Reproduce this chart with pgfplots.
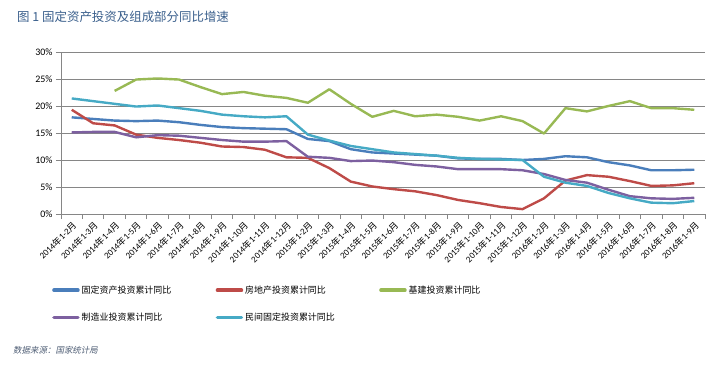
\documentclass[border=0pt]{standalone}
\usepackage{fontspec}
\setmainfont{Carlito}
\newfontfamily\cjk{Noto Sans CJK SC}
\newfontfamily\cjkit{Noto Sans CJK SC}[FakeSlant=0.2]
\usepackage{pgfplots}
\usepackage{pgfplotstable}
\pgfplotsset{compat=1.18}
\definecolor{cBlue}{HTML}{4A7EBB}
\definecolor{cRed}{HTML}{BE4B48}
\definecolor{cGreen}{HTML}{98B954}
\definecolor{cPurple}{HTML}{7D60A0}
\definecolor{cCyan}{HTML}{46AAC5}
\definecolor{gridc}{HTML}{868686}
\definecolor{titlec}{HTML}{3A5F8C}
\definecolor{srcc}{HTML}{4F5E75}
\newcommand{\lab}[2]{#1{\cjk 年}#2{\cjk 月}}
\pgfplotstableread{
x fixed re infra mfg priv
0 17.9 19.3 nan 15.1 21.4
1 17.6 16.8 nan 15.2 20.9
2 17.3 16.4 22.8 15.2 20.4
3 17.2 14.7 24.9 14.2 19.9
4 17.3 14.1 25.1 14.6 20.1
5 17.0 13.7 24.9 14.5 19.6
6 16.5 13.2 23.5 14.1 19.1
7 16.1 12.5 22.2 13.7 18.4
8 15.9 12.4 22.6 13.4 18.1
9 15.8 11.9 21.9 13.4 17.9
10 15.7 10.5 21.5 13.5 18.1
11 13.9 10.4 20.6 10.6 14.7
12 13.5 8.5 23.1 10.4 13.6
13 12.0 6.0 20.4 9.8 12.6
14 11.4 5.1 18.0 9.9 12.0
15 11.2 4.6 19.1 9.6 11.4
16 11.0 4.2 18.1 9.1 11.1
17 10.8 3.5 18.4 8.8 10.8
18 10.3 2.6 18.0 8.3 10.4
19 10.2 2.0 17.3 8.3 10.2
20 10.2 1.3 18.1 8.3 10.1
21 10.0 0.9 17.2 8.1 10.0
22 10.2 2.9 14.9 7.4 6.9
23 10.7 6.2 19.6 6.3 5.8
24 10.5 7.2 19.0 5.8 5.2
25 9.6 6.9 20.0 4.5 3.9
26 9.0 6.1 20.9 3.3 2.9
27 8.1 5.2 19.6 2.9 2.1
28 8.1 5.3 19.6 2.8 2.0
29 8.2 5.7 19.3 3.0 2.4
}\data
\begin{document}
\begin{tikzpicture}
\path (0bp,0bp) rectangle (720bp,-367bp);
\node[anchor=west, text=titlec, font=\cjk\fontsize{12.5}{14}\selectfont, inner sep=0pt] at (17bp,-16.5bp) {图 1 固定资产投资及组成部分同比增速};
\begin{axis}[
  at={(61bp,-214bp)}, anchor=south west,
  scale only axis, width=644bp, height=162bp,
  xmin=-0.5, xmax=29.5, ymin=0, ymax=30,
  ytick={0,5,...,30},
  yticklabel={\pgfmathprintnumber{\tick}\%},
  /pgf/number format/assume math mode=true,
  xtick={0,...,29},
  xticklabels={\lab{2014}{1-2},\lab{2014}{1-3},\lab{2014}{1-4},\lab{2014}{1-5},\lab{2014}{1-6},\lab{2014}{1-7},\lab{2014}{1-8},\lab{2014}{1-9},\lab{2014}{1-10},\lab{2014}{1-11},\lab{2014}{1-12},
  \lab{2015}{1-2},\lab{2015}{1-3},\lab{2015}{1-4},\lab{2015}{1-5},\lab{2015}{1-6},\lab{2015}{1-7},\lab{2015}{1-8},\lab{2015}{1-9},\lab{2015}{1-10},\lab{2015}{1-11},\lab{2015}{1-12},
  \lab{2016}{1-2},\lab{2016}{1-3},\lab{2016}{1-4},\lab{2016}{1-5},\lab{2016}{1-6},\lab{2016}{1-7},\lab{2016}{1-8},\lab{2016}{1-9}},
  minor xtick={-0.5,0.5,...,29.5},
  major x tick style={draw=none},
  axis x line*=bottom, axis y line*=left,
  ymajorgrids, grid style={gridc, line width=0.9bp},
  axis line style={gridc, line width=0.9bp},
  every tick/.style={gridc, line width=0.9bp},
  tick align=outside, major tick length=5bp, minor tick length=5bp,
  x tick label style={rotate=45, anchor=north east, font=\fontsize{9}{10}\selectfont, inner sep=1bp},
  y tick label style={font=\fontsize{10}{12}\selectfont},
  legend columns=3,
  legend cell align=left,
  legend style={draw=none, fill=none, at={(axis description cs:-0.0186,-0.429)}, anchor=north west,
    font=\cjk\fontsize{9}{10}\selectfont, row sep=18bp,
    nodes={inner sep=0pt},
    /tikz/every odd column/.append style={column sep=2bp}},
  legend image code/.code={\draw[#1, line width=3.5bp, line cap=round] (0bp,0bp) -- (24bp,0bp);},
  every axis plot/.append style={line width=2.4bp, line join=round},
]
\addplot[cBlue] table[x=x,y=fixed]{\data};
\addlegendentry{\makebox[134bp][l]{固定资产投资累计同比}}
\addplot[cRed] table[x=x,y=re]{\data};
\addlegendentry{\makebox[134bp][l]{房地产投资累计同比}}
\addplot[cGreen] table[x=x,y=infra]{\data};
\addlegendentry{\makebox[134bp][l]{基建投资累计同比}}
\addplot[cPurple] table[x=x,y=mfg]{\data};
\addlegendentry{\makebox[134bp][l]{制造业投资累计同比}}
\addplot[cCyan] table[x=x,y=priv]{\data};
\addlegendentry{\makebox[134bp][l]{民间固定投资累计同比}}
\end{axis}
\node[anchor=west, font=\cjkit\fontsize{8.5}{10}\selectfont, text=srcc, inner sep=0pt] at (13bp,-350bp) {数据来源：国家统计局};
\end{tikzpicture}
\end{document}
